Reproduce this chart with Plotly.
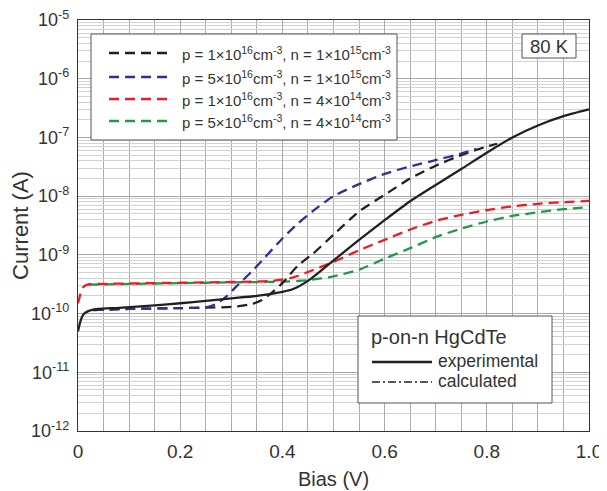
import plotly.graph_objects as go

# ---------------- data ----------------
exp_V = [0.0, 0.005, 0.01, 0.02, 0.04, 0.08, 0.15, 0.2, 0.25, 0.3, 0.35, 0.40, 0.42, 0.45, 0.49,
         0.55, 0.60, 0.65, 0.70, 0.75, 0.80, 0.85, 0.90, 0.95, 1.00]
exp_I = [5.0e-11, 7.5e-11, 9.5e-11, 1.1e-10, 1.2e-10, 1.25e-10, 1.38e-10, 1.5e-10, 1.65e-10, 1.82e-10,
         2.0e-10, 2.35e-10, 2.6e-10, 3.6e-10, 6.8e-10, 1.8e-9, 3.9e-9, 8.2e-9, 1.55e-8, 2.9e-8,
         5.5e-8, 1.0e-7, 1.6e-7, 2.3e-7, 3.0e-7]

c1_V = [0.03, 0.1, 0.2, 0.3, 0.34, 0.36, 0.38, 0.40, 0.43, 0.46, 0.50, 0.55, 0.60, 0.65, 0.70,
        0.75, 0.80, 0.82]
c1_I = [1.15e-10, 1.2e-10, 1.24e-10, 1.3e-10, 1.45e-10, 1.7e-10, 2.3e-10, 3.3e-10, 6.5e-10, 1.05e-9,
        2.2e-9, 5.5e-9, 1.05e-8, 2.0e-8, 3.3e-8, 5.0e-8, 7.0e-8, 7.8e-8]

c2_V = [0.03, 0.1, 0.2, 0.25, 0.27, 0.29, 0.31, 0.34, 0.36, 0.40, 0.43, 0.46, 0.50, 0.55, 0.60,
        0.65, 0.70, 0.75, 0.78]
c2_I = [1.15e-10, 1.2e-10, 1.24e-10, 1.28e-10, 1.45e-10, 1.95e-10, 2.9e-10, 5.2e-10, 8.0e-10, 1.9e-9,
        3.4e-9, 5.6e-9, 1.0e-8, 1.6e-8, 2.4e-8, 3.2e-8, 4.1e-8, 5.3e-8, 6.4e-8]

c3_V = [0.0, 0.005, 0.01, 0.02, 0.05, 0.1, 0.2, 0.3, 0.38, 0.42, 0.45, 0.50, 0.55, 0.60, 0.65,
        0.70, 0.75, 0.80, 0.85, 0.90, 0.95, 1.00]
c3_I = [1.5e-10, 2.2e-10, 2.8e-10, 3.15e-10, 3.2e-10, 3.25e-10, 3.35e-10, 3.45e-10, 3.6e-10, 4.1e-10,
        5.1e-10, 7.6e-10, 1.2e-9, 1.8e-9, 2.7e-9, 3.8e-9, 4.8e-9, 5.8e-9, 6.7e-9, 7.4e-9, 7.9e-9, 8.3e-9]

c4_V = [0.02, 0.1, 0.2, 0.3, 0.4, 0.45, 0.50, 0.55, 0.60, 0.65, 0.70, 0.75, 0.80, 0.85, 0.90,
        0.95, 1.00]
c4_I = [3.1e-10, 3.2e-10, 3.3e-10, 3.4e-10, 3.5e-10, 3.7e-10, 4.3e-10, 5.6e-10, 8.6e-10, 1.3e-9,
        2.0e-9, 2.8e-9, 3.7e-9, 4.6e-9, 5.3e-9, 6.0e-9, 6.5e-9]

series_labels = [
    "p = 1×10<sup>16</sup>cm<sup>-3</sup>, n = 1×10<sup>15</sup>cm<sup>-3</sup>",
    "p = 5×10<sup>16</sup>cm<sup>-3</sup>, n = 1×10<sup>15</sup>cm<sup>-3</sup>",
    "p = 1×10<sup>16</sup>cm<sup>-3</sup>, n = 4×10<sup>14</sup>cm<sup>-3</sup>",
    "p = 5×10<sup>16</sup>cm<sup>-3</sup>, n = 4×10<sup>14</sup>cm<sup>-3</sup>",
]
series_colors = ["#231f20", "#2e3192", "#ed1c24", "#1f9a4a"]

x_tickvals = [0, 0.2, 0.4, 0.6, 0.8, 1.0]
x_ticktext = ["0", "0.2", "0.4", "0.6", "0.8", "1.0"]
y_exponents = [-12, -11, -10, -9, -8, -7, -6, -5]

FONT = "Liberation Sans, Arial, sans-serif"
TXT = "#333333"
DASH = "10px,6px"

fig = go.Figure()

calc = [(c4_V, c4_I, 3), (c3_V, c3_I, 2), (c1_V, c1_I, 0), (c2_V, c2_I, 1)]
for V, I, k in calc:
    fig.add_trace(go.Scatter(x=V, y=I, mode="lines", showlegend=False,
                             line=dict(color=series_colors[k], width=2.3, dash=DASH,
                                       shape="spline", smoothing=0.6)))
fig.add_trace(go.Scatter(x=exp_V, y=exp_I, mode="lines", showlegend=False,
                         line=dict(color="#231f20", width=2.3, shape="spline", smoothing=0.6)))

minor_y = [m * 10.0 ** e for e in range(-12, -5) for m in range(2, 10)]

fig.update_xaxes(range=[0, 1], tickvals=x_tickvals, ticktext=x_ticktext, automargin=False,
                 showgrid=True, gridcolor="#ababab", gridwidth=1,
                 minor=dict(dtick=0.05, showgrid=True, gridcolor="#ababab", gridwidth=1),
                 showline=True, linecolor="#333333", linewidth=1.2, mirror=True,
                 ticks="", zeroline=False, ticklabelstandoff=3, ticklabeloverflow="allow",
                 tickfont=dict(family=FONT, size=19, color=TXT),
                 title=dict(text="Bias (V)", font=dict(family=FONT, size=20, color=TXT), standoff=11))
fig.update_yaxes(type="log", range=[-12, -5], automargin=False,
                 tickvals=[10.0 ** e for e in y_exponents],
                 ticktext=["10<sup>%d</sup>" % e for e in y_exponents],
                 showgrid=True, gridcolor="#a8a8a8", gridwidth=1,
                 minor=dict(tickvals=minor_y, showgrid=True, gridcolor="#d2d2d2", gridwidth=1),
                 showline=True, linecolor="#333333", linewidth=1.2, mirror=True,
                 ticks="", zeroline=False, ticklabelstandoff=4, ticklabeloverflow="allow",
                 tickfont=dict(family=FONT, size=18, color=TXT),
                 title=dict(text="Current (A)", font=dict(family=FONT, size=22, color=TXT), standoff=0))

shapes = []
ann = []

def px_x(px):
    return (px - 78) / 511.0

def px_y(py):
    return (431 - py) / 411.0

# upper legend box
shapes.append(dict(type="rect", xref="paper", yref="paper", layer="above",
                   x0=px_x(91), x1=px_x(397), y0=px_y(140), y1=px_y(34),
                   line=dict(color="#555555", width=1), fillcolor="white"))
rows = [53, 77, 99, 121]
for k, ry in enumerate(rows):
    shapes.append(dict(type="line", xref="paper", yref="paper", layer="above",
                       x0=px_x(109), x1=px_x(170), y0=px_y(ry), y1=px_y(ry),
                       line=dict(color=series_colors[k], width=2.3, dash=DASH)))
    ann.append(dict(xref="paper", yref="paper", x=px_x(180), y=px_y(ry), text=series_labels[k],
                    xanchor="left", yanchor="middle", showarrow=False,
                    font=dict(family=FONT, size=15, color=TXT)))

# lower legend box
shapes.append(dict(type="rect", xref="paper", yref="paper", layer="above",
                   x0=px_x(358), x1=px_x(552), y0=px_y(403), y1=px_y(316),
                   line=dict(color="#555555", width=1), fillcolor="white"))
ann.append(dict(xref="paper", yref="paper", x=px_x(369), y=px_y(337), text="p-on-n HgCdTe",
                xanchor="left", yanchor="middle", showarrow=False,
                font=dict(family=FONT, size=20, color=TXT)))
shapes.append(dict(type="line", xref="paper", yref="paper", layer="above",
                   x0=px_x(372), x1=px_x(432), y0=px_y(362), y1=px_y(362),
                   line=dict(color="#231f20", width=2.3)))
ann.append(dict(xref="paper", yref="paper", x=px_x(436), y=px_y(361), text="experimental",
                xanchor="left", yanchor="middle", showarrow=False,
                font=dict(family=FONT, size=17.5, color=TXT)))
shapes.append(dict(type="line", xref="paper", yref="paper", layer="above",
                   x0=px_x(372), x1=px_x(432), y0=px_y(382), y1=px_y(382),
                   line=dict(color="#231f20", width=1.5, dash="8px,3px,2px,3px")))
ann.append(dict(xref="paper", yref="paper", x=px_x(436), y=px_y(381), text="calculated",
                xanchor="left", yanchor="middle", showarrow=False,
                font=dict(family=FONT, size=17.5, color=TXT)))

# 80 K box
shapes.append(dict(type="rect", xref="paper", yref="paper", layer="above",
                   x0=px_x(522), x1=px_x(576), y0=px_y(58), y1=px_y(34),
                   line=dict(color="#555555", width=1), fillcolor="white"))
ann.append(dict(xref="paper", yref="paper", x=px_x(549), y=px_y(46), text="80 K",
                xanchor="center", yanchor="middle", showarrow=False,
                font=dict(family=FONT, size=18.5, color=TXT)))

# the page body adds an 8 px offset, so the figure is sized to fit the 607x491 window
fig.update_layout(width=599, height=483, margin=dict(l=70, r=18, t=12, b=60),
                  paper_bgcolor="white", plot_bgcolor="white",
                  shapes=shapes, annotations=ann, showlegend=False,
                  font=dict(family=FONT, color=TXT))

fig.write_html("out.html")
